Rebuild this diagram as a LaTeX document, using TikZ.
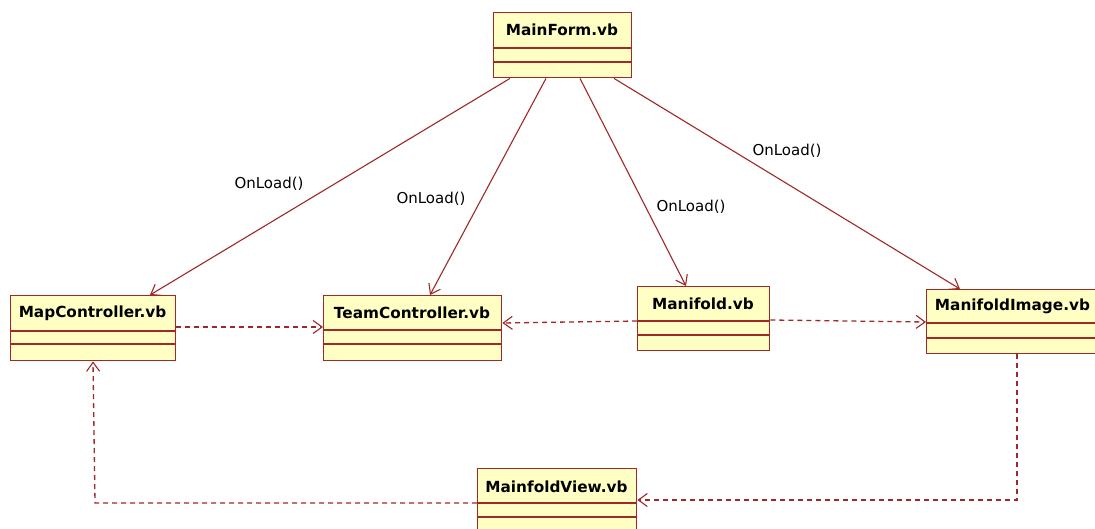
\documentclass[tikz,border=0pt]{standalone}
\usepackage{fontspec}
\setmainfont{DejaVu Sans}
\usetikzlibrary{arrows.meta,calc}
\definecolor{umlline}{RGB}{160,40,40}
\definecolor{umlfill}{RGB}{255,255,196}
\tikzset{
  classbox/.style={draw=umlline, fill=umlfill, line width=1.4pt, rectangle, inner sep=0pt, anchor=north west},
  classname/.style={font=\fontsize{15.3}{18}\selectfont\bfseries, inner sep=0pt, text=black},
  divider/.style={draw=umlline, line width=1.4pt},
  calls/.style={draw=umlline, line width=1.1pt, -{Straight Barb[length=9pt,width=13pt,line width=1.1pt]}},
  uses/.style={draw=umlline, line width=1.3pt, dash pattern=on 5pt off 4pt, -{Straight Barb[length=9pt,width=13pt,line width=1.1pt]}},
  msg/.style={font=\fontsize{15}{18}\selectfont, inner sep=0pt, text=black}
}
% class box: name, left, top, right, bottom, first divider, second divider, title row, title
\newcommand{\umlclass}[9]{%
  \node[classbox, minimum width=#4-#2, minimum height=#5-#3] (#1) at (#2,#3) {};
  \draw[divider] (#2,#6) -- (#4,#6);
  \draw[divider] (#2,#7) -- (#4,#7);
  \node[classname] (#1-title) at ({(#2+#4)/2},#8) {#9};
}
\begin{document}
\begin{tikzpicture}[x=1pt,y=-1pt]
\useasboundingbox (0,0) rectangle (1095,529);
\fill[white] (0,0) rectangle (1095,529);

\umlclass{mf}{493}{12}{631}{77}{48}{62}{30}{MainForm.vb}
\umlclass{mc}{10}{295}{175}{360}{331}{344}{313}{MapController.vb}
\umlclass{tc}{323}{295}{501}{360}{330}{344}{313}{TeamController.vb}
\umlclass{man}{637}{286}{769}{350}{321}{335}{304}{Manifold.vb}
\umlclass{mi}{926}{289}{1099}{353}{323}{338}{306}{ManifoldImage.vb}
\umlclass{mv}{477}{468}{636}{545}{503}{517}{487}{MainfoldView.vb}

% calls made by the main form on load
\draw[calls] ($(mf.south west)+(17,0)$) -- ($(mc.north west)+(140,0)$);
\draw[calls] ($(mf.south west)+(53,0)$) -- ($(tc.north west)+(107,0)$);
\draw[calls] ($(mf.south west)+(87,0)$) -- ($(man.north west)+(49,0)$);
\draw[calls] ($(mf.south west)+(121,0)$) -- ($(mi.north west)+(34,0)$);

\node[msg] (l1) at (269,184) {OnLoad()};
\node[msg] (l2) at (431,199) {OnLoad()};
\node[msg] (l3) at (691,207) {OnLoad()};
\node[msg] (l4) at (787,151) {OnLoad()};

% dependencies between the classes
\draw[uses] ($(mc.north east)+(0,32)$) -- ($(tc.north west)+(0,32)$);
\draw[uses] ($(man.north west)+(0,35)$) -- ($(tc.north east)+(0,28)$);
\draw[uses] ($(man.north east)+(0,34)$) -- ($(mi.north west)+(0,33)$);
\coordinate (c1) at (1017,500);
\coordinate (c2) at (95,503);
\draw[uses] ($(mi.south west)+(91,0)$) -- (c1) -- ($(mv.north east)+(0,32)$);
\draw[uses] ($(mv.north west)+(0,35)$) -- (c2) -- ($(mc.south west)+(83,0)$);
\end{tikzpicture}
\end{document}
